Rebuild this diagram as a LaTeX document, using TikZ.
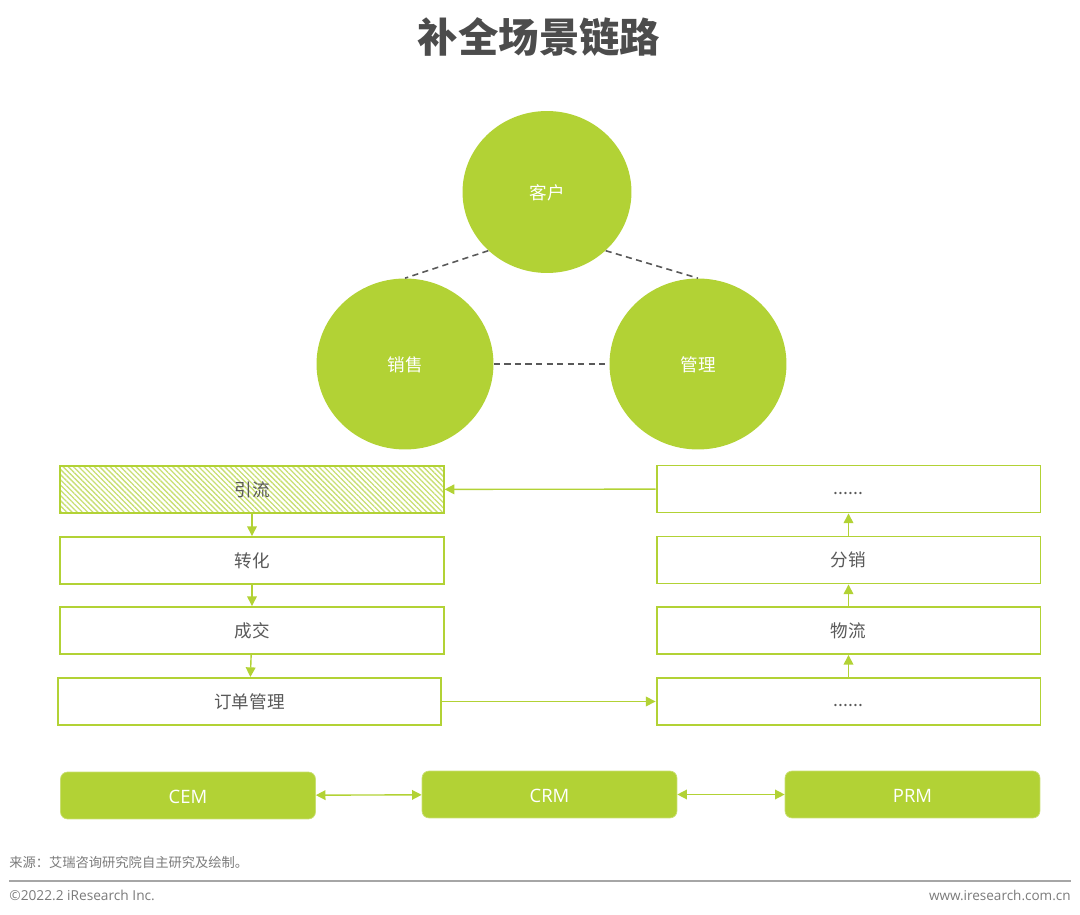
\documentclass[tikz,border=0pt]{standalone}
\usepackage{fontspec}
\setmainfont{Open Sans}
\newfontfamily\cjk{Noto Sans CJK SC}
\usetikzlibrary{arrows.meta,patterns.meta,shapes.geometric}
\definecolor{leaf}{HTML}{B2D235}
\definecolor{ink}{HTML}{595959}
\newcommand{\moredots}{\smash{\raisebox{-2.9pt}{......}}}
\tikzset{
    flowbox/.style={rectangle, draw=leaf, line width=1.1pt, fill=white, inner sep=0pt, minimum width=7.68cm, minimum height=.94cm, text=ink, font=\cjk\fontsize{10}{12}\selectfont},
    hatched/.style={pattern={Lines[angle=-45, distance=2.1pt, line width=.75pt]}, pattern color=leaf!70},
    sysbox/.style={rectangle, rounded corners=4pt, fill=leaf, draw=leaf!70, line width=.4pt, inner sep=0pt, minimum width=5.1cm, minimum height=.94cm, text=white, text height=8.6pt, text depth=0pt, font=\fontsize{10.5}{12}\selectfont},
    role/.style={ellipse, fill=leaf, inner sep=0pt, text=white, text height=9.6pt, text depth=.8pt, font=\cjk\fontsize{10}{12}\selectfont},
    flow/.style={draw=leaf, line width=.8pt, -{Triangle[length=5.5pt, width=5.5pt]}},
    link/.style={draw=leaf, line width=.8pt, {Triangle[length=5.5pt, width=5.5pt]}-{Triangle[length=5.5pt, width=5.5pt]}},
    tie/.style={draw=ink, line width=.9pt, dash pattern=on 3.5pt off 2.5pt},
}
\begin{document}
\begin{tikzpicture}[x=.02cm, y=-.02cm]
    \useasboundingbox (0,0) rectangle (1080,915);
    \node[text=ink!85!black, font=\cjk\bfseries\fontsize{23}{28}\selectfont] (title) at (539,37) {补全场景链路};
    % Three circles
    \node[role, minimum width=3.38cm, minimum height=3.24cm] (kehu) at (547,192) {客户};
    \foreach \n/\x/\t in {xiaoshou/405/销售, guanli/698/管理} {
        \node[role, minimum width=3.54cm, minimum height=3.42cm] (\n) at (\x,364) {\t};
    }
    \draw[tie] (kehu.225) -- (xiaoshou.north);
    \draw[tie] (kehu.-45) -- (guanli.north);
    \draw[tie] (xiaoshou) -- (guanli);
    % Left and right columns
    \foreach \n/\x/\y/\t in {zhuanhua/252/560.5/转化, chengjiao/252/630.5/成交, dingdan/249.5/701.5/订单管理,
                             dotsb/848.5/701.5/\moredots, wuliu/848.5/630.5/物流, fenxiao/848.5/560/分销, dotsa/848.5/489/\moredots} {
        \node[flowbox] (\n) at (\x,\y) {\t};
    }
    \node[flowbox, hatched] (yinliu) at (252,489.5) {引流};
    % Flow arrows
    \foreach \a/\b in {yinliu/zhuanhua, zhuanhua/chengjiao, chengjiao/dingdan,
                       dotsb/wuliu, wuliu/fenxiao, fenxiao/dotsa}
    {   \draw[flow] (\a) -- (\b);}
    \draw[flow] (dotsa) -- (yinliu);
    \draw[flow] (dingdan) -- (dotsb);
    % Bottom row
    \foreach \n/\x/\y/\t in {cem/188/795.5/CEM, crm/549.5/794.5/CRM, prm/912.5/794.5/PRM} {
        \node[sysbox] (\n) at (\x,\y) {\t};
    }
    \draw[link] (cem) -- (crm);
    \draw[link] (crm) -- (prm);
    % Footer
    \node[anchor=west, inner sep=0pt, text=ink!80, font=\cjk\fontsize{7.55}{9}\selectfont] (source) at (9,862) {来源：艾瑞咨询研究院自主研究及绘制。};
    \coordinate (ruleleft) at (9,881);
    \coordinate (ruleright) at (1071,881);
    \draw[draw=black!35, line width=.8pt] (ruleleft) -- (ruleright);
    \node[anchor=west, inner sep=0pt, text=ink!80, font=\fontsize{7.8}{9}\selectfont] (copyright) at (9,895) {©2022.2 iResearch Inc.};
    \node[anchor=east, inner sep=0pt, text=ink!80, font=\fontsize{7.7}{9}\selectfont] (website) at (1071,895) {www.iresearch.com.cn};
\end{tikzpicture}
\end{document}
